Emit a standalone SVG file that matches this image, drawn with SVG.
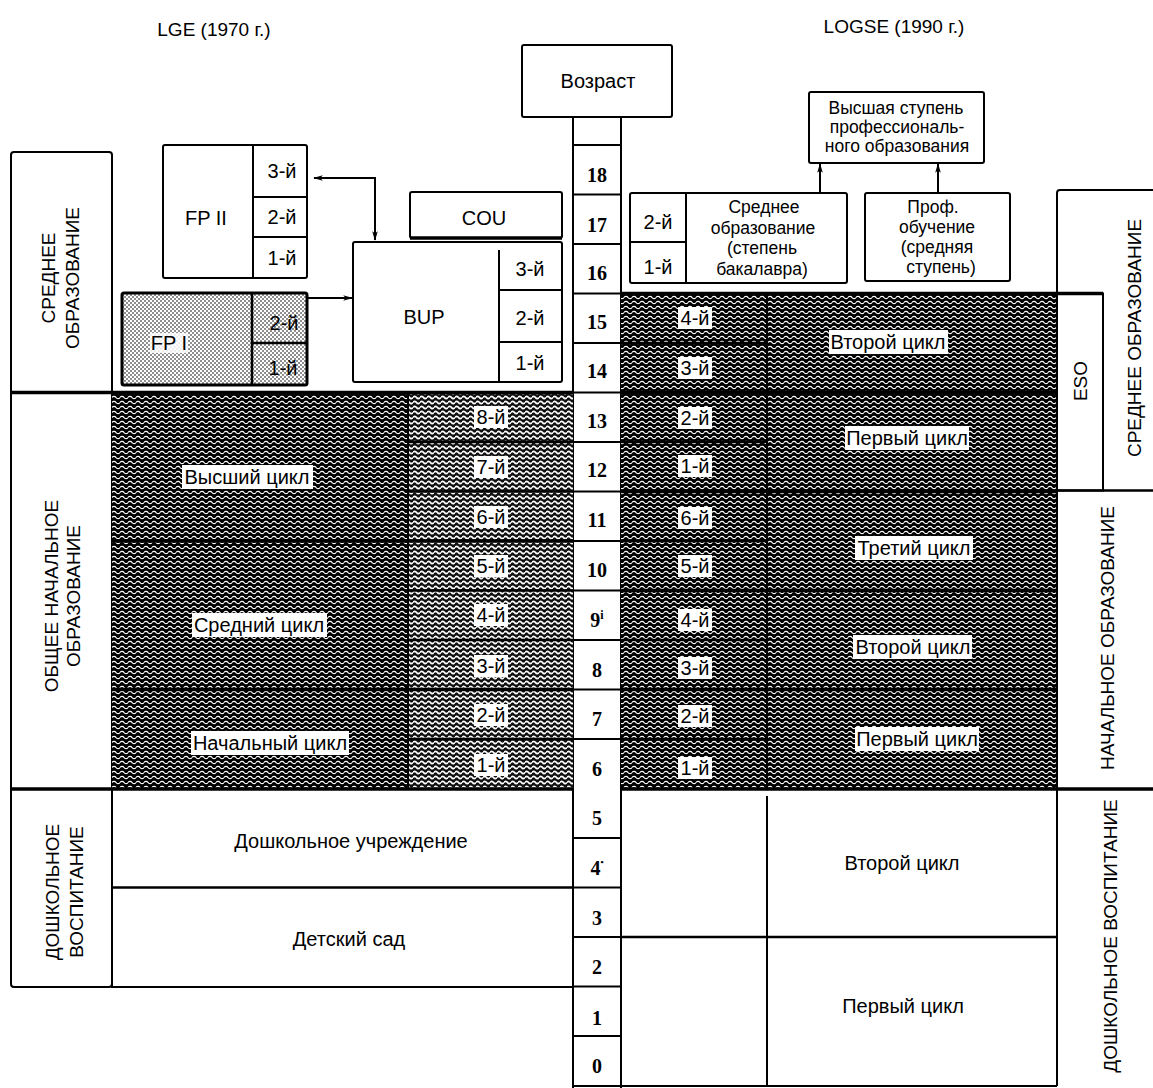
<svg xmlns="http://www.w3.org/2000/svg" width="1153" height="1088" viewBox="0 0 1153 1088">
<defs>
  <pattern id="wv" width="8" height="5" patternUnits="userSpaceOnUse">
    <rect width="8" height="5" fill="#000"/>
    <path d="M0,2.5 C1,1 3,1 4,2.5 S7,4 8,2.5" fill="none" stroke="#fff" stroke-width="1.3"/>
  </pattern>
  <pattern id="wv2" width="7" height="5" patternUnits="userSpaceOnUse">
    <rect width="7" height="5" fill="#111"/>
    <path d="M0,2.5 C1,1 2.5,1 3.5,2.5 S6,4 7,2.5" fill="none" stroke="#fff" stroke-width="1.7"/>
  </pattern>
  <pattern id="dt" width="4" height="4" patternUnits="userSpaceOnUse">
    <rect width="4" height="4" fill="#fff"/>
    <circle cx="1" cy="1" r="0.8" fill="#000"/>
    <circle cx="3" cy="3" r="0.8" fill="#000"/>
  </pattern>
  <marker id="ah" viewBox="0 0 12 10" refX="11" refY="5" markerWidth="10" markerHeight="8" orient="auto-start-reverse" markerUnits="userSpaceOnUse">
    <path d="M0,1.5 L12,5 L0,8.5 L3,5 z" fill="#000"/>
  </marker>
</defs>
<style>
  .t{font-family:"Liberation Sans",Arial,sans-serif;font-size:20px;fill:#000;text-anchor:middle;dominant-baseline:central}
  .s{font-family:"Liberation Sans",Arial,sans-serif;font-size:17.5px;fill:#000;text-anchor:middle;dominant-baseline:central}
  .r{font-family:"Liberation Sans",Arial,sans-serif;font-size:19px;fill:#000;text-anchor:middle;dominant-baseline:central}
  .h{font-family:"Liberation Sans",Arial,sans-serif;font-size:19px;fill:#000;text-anchor:middle}
  .n{font-family:"Liberation Serif","Times New Roman",serif;font-weight:bold;font-size:20px;fill:#000;text-anchor:middle;dominant-baseline:central}
  .b{fill:#fff;stroke:#000;stroke-width:2}
  .l{stroke:#000;stroke-width:2;fill:none}
  .k{stroke:#000;stroke-width:3.5;fill:none}
  .m{stroke:#000;stroke-width:2.5;fill:none}
  .w{fill:#fff}
  .cn{stroke:#000;stroke-width:2;fill:none}
</style>
<rect width="1153" height="1088" fill="#fff"/>

<!-- headers -->
<g id="headers">
  <text class="h" x="214" y="36">LGE (1970 г.)</text>
  <text class="h" x="894" y="33">LOGSE (1990 г.)</text>
</g>

<!-- age column -->
<g id="age">
  <rect class="b" x="522" y="45" width="150" height="72" rx="2"/>
  <text class="t" x="598" y="81">Возраст</text>
  <path class="l" d="M573,117 V1088 M621,117 V1088"/>
  <path class="l" d="M573,145 H621 M573,194.5 H621 M573,244 H621 M573,293.5 H621 M573,343 H621 M573,392.5 H621 M573,442 H621 M573,491.5 H621 M573,541 H621 M573,590.5 H621 M573,640 H621 M573,689.5 H621 M573,739 H621 M573,838 H621 M573,887.5 H621 M573,937 H621 M573,986.5 H621 M573,1036 H621"/>
  <text class="n" x="597" y="175">18</text>
  <text class="n" x="597" y="224.5">17</text>
  <text class="n" x="597" y="273">16</text>
  <text class="n" x="597" y="322">15</text>
  <text class="n" x="597" y="371">14</text>
  <text class="n" x="597" y="421">13</text>
  <text class="n" x="597" y="470">12</text>
  <text class="n" x="597" y="520">11</text>
  <text class="n" x="597" y="570">10</text>
  <text class="n" x="597" y="620">9<tspan font-size="12" dy="-5">i</tspan></text>
  <text class="n" x="597" y="670">8</text>
  <text class="n" x="597" y="719">7</text>
  <text class="n" x="597" y="769">6</text>
  <text class="n" x="597" y="818">5</text>
  <text class="n" x="597" y="868">4<tspan font-size="9" dy="-6">•</tspan></text>
  <text class="n" x="597" y="918">3</text>
  <text class="n" x="597" y="967">2</text>
  <text class="n" x="597" y="1018">1</text>
  <text class="n" x="597" y="1066">0</text>
</g>

<!-- left label column -->
<g id="lge-labels">
  <rect class="b" x="11" y="152" width="101" height="835" rx="3"/>
  <text class="r" transform="translate(60,278) rotate(-90)"><tspan x="0" y="-12">СРЕДНЕЕ</tspan><tspan x="0" y="12">ОБРАЗОВАНИЕ</tspan></text>
  <text class="r" transform="translate(62,596) rotate(-90)"><tspan x="0" y="-11">ОБЩЕЕ НАЧАЛЬНОЕ</tspan><tspan x="0" y="11">ОБРАЗОВАНИЕ</tspan></text>
  <text class="r" transform="translate(64,892) rotate(-90)"><tspan x="0" y="-12">ДОШКОЛЬНОЕ</tspan><tspan x="0" y="12">ВОСПИТАНИЕ</tspan></text>
</g>

<!-- LGE general basic education (dark) -->
<g id="lge-egb">
  <rect x="112" y="392.5" width="296" height="397" fill="url(#wv)"/>
  <rect x="408" y="392.5" width="165" height="397" fill="url(#wv2)"/>
  <path class="l" d="M408,392.5 V789"/>
  <path class="m" d="M408,442 H573 M408,491.5 H573 M408,590.5 H573 M408,640 H573 M408,739 H573"/>
  <path class="k" d="M112,541 H573 M112,689.5 H573"/>
  <rect class="w" x="182" y="465" width="131" height="24"/>
  <text class="t" x="247" y="477">Высший цикл</text>
  <rect class="w" x="192" y="613" width="135" height="24"/>
  <text class="t" x="259" y="625">Средний цикл</text>
  <rect class="w" x="191" y="731" width="158" height="24"/>
  <text class="t" x="270" y="743">Начальный цикл</text>
  <rect class="w" x="474" y="406" width="34" height="22"/><text class="t" x="491" y="417">8-й</text>
  <rect class="w" x="474" y="456" width="34" height="22"/><text class="t" x="491" y="467">7-й</text>
  <rect class="w" x="474" y="506" width="34" height="22"/><text class="t" x="491" y="517">6-й</text>
  <rect class="w" x="474" y="555" width="34" height="22"/><text class="t" x="491" y="566">5-й</text>
  <rect class="w" x="474" y="604" width="34" height="22"/><text class="t" x="491" y="615">4-й</text>
  <rect class="w" x="474" y="655" width="34" height="22"/><text class="t" x="491" y="666">3-й</text>
  <rect class="w" x="474" y="704" width="34" height="22"/><text class="t" x="491" y="715">2-й</text>
  <rect class="w" x="474" y="754" width="34" height="22"/><text class="t" x="491" y="765">1-й</text>
</g>

<!-- LGE preschool -->
<g id="lge-preschool">
  <rect class="b" x="112" y="789" width="461" height="198"/>
  <path class="m" d="M112,887.5 H573"/>
  <text class="t" x="351" y="841">Дошкольное учреждение</text>
  <text class="t" x="349" y="939">Детский сад</text>
</g>

<!-- LGE secondary boxes -->
<g id="fp2">
  <rect class="b" x="163" y="145" width="144" height="133" rx="2"/>
  <path class="l" d="M253,145 V278 M253,197 H307 M253,237 H307"/>
  <text class="t" x="206" y="218">FP II</text>
  <text class="t" x="282" y="171">3-й</text>
  <text class="t" x="282" y="217">2-й</text>
  <text class="t" x="282" y="258">1-й</text>
</g>
<g id="fp1">
  <rect x="122" y="293" width="185" height="92" rx="2" fill="url(#dt)" stroke="#000" stroke-width="3"/>
  <path class="m" d="M252,293 V385 M252,343 H307"/>
  <rect class="w" x="150" y="333" width="38" height="20" opacity="0.85"/>
  <text class="t" x="169" y="343">FP I</text>
  <text class="t" x="284" y="323">2-й</text>
  <text class="t" x="283" y="368">1-й</text>
</g>
<g id="cou">
  <rect class="b" x="410" y="192" width="152" height="46" rx="2"/>
  <path class="k" d="M410,238 H562"/>
  <text class="t" x="484" y="218">COU</text>
</g>
<g id="bup">
  <rect class="b" x="353" y="242" width="209" height="140" rx="2"/>
  <path class="l" d="M499,250 V382 M499,290 H562 M499,342 H562"/>
  <text class="t" x="424" y="317">BUP</text>
  <text class="t" x="530" y="269">3-й</text>
  <text class="t" x="530" y="318">2-й</text>
  <text class="t" x="530" y="363">1-й</text>
</g>

<!-- LOGSE top boxes -->
<g id="higher-prof">
  <rect class="b" x="809" y="92" width="175" height="71" rx="2"/>
  <text class="s" x="896" y="108">Высшая ступень</text>
  <text class="s" x="897" y="127">профессиональ-</text>
  <text class="s" x="897" y="146">ного образования</text>
</g>
<g id="bach">
  <rect class="b" x="630" y="193" width="217" height="90" rx="2"/>
  <path class="l" d="M686,193 V283 M630,242 H686"/>
  <text class="t" x="658" y="222">2-й</text>
  <text class="t" x="658" y="267">1-й</text>
  <text class="s" x="764" y="207">Среднее</text>
  <text class="s" x="763" y="227.5">образование</text>
  <text class="s" x="762" y="248">(степень</text>
  <text class="s" x="762" y="268.5">бакалавра)</text>
</g>
<g id="prof">
  <rect class="b" x="865" y="193" width="145" height="88" rx="2"/>
  <text class="s" x="933" y="207">Проф.</text>
  <text class="s" x="937" y="227">обучение</text>
  <text class="s" x="937" y="247">(средняя</text>
  <text class="s" x="941" y="267">ступень)</text>
</g>

<!-- LOGSE right labels -->
<g id="logse-labels">
  <path class="l" d="M1057,293 V193 Q1057,190 1060,190 H1153"/>
  <rect class="b" x="1057" y="293.5" width="46" height="197"/>
  <path class="m" d="M1057,490.5 H1153"/>
  <text class="r" transform="translate(1080,381) rotate(-90)">ESO</text>
  <text class="r" transform="translate(1134,338) rotate(-90)">СРЕДНЕЕ ОБРАЗОВАНИЕ</text>
  <text class="r" transform="translate(1107,638) rotate(-90)">НАЧАЛЬНОЕ ОБРАЗОВАНИЕ</text>
  <text class="r" transform="translate(1110,936) rotate(-90)">ДОШКОЛЬНОЕ ВОСПИТАНИЕ</text>
</g>

<!-- LOGSE dark region -->
<g id="logse-basic">
  <rect x="621" y="293.5" width="436" height="496" fill="url(#wv)"/>
  <path class="l" d="M767,293.5 V789 M1057,293.5 V789"/>
  <path class="m" d="M621,343 H767 M621,442 H767 M621,541 H767 M621,640 H767 M621,739 H767"/>
  <path class="k" d="M621,392.5 H1057 M621,491.5 H1057 M621,590.5 H1057 M621,689.5 H1057"/>
  <rect class="w" x="678" y="307" width="34" height="22"/><text class="t" x="695" y="318">4-й</text>
  <rect class="w" x="678" y="357" width="34" height="22"/><text class="t" x="695" y="368">3-й</text>
  <rect class="w" x="678" y="407" width="34" height="22"/><text class="t" x="695" y="418">2-й</text>
  <rect class="w" x="678" y="455" width="34" height="22"/><text class="t" x="695" y="466">1-й</text>
  <rect class="w" x="678" y="507" width="34" height="22"/><text class="t" x="695" y="518">6-й</text>
  <rect class="w" x="678" y="555" width="34" height="22"/><text class="t" x="695" y="566">5-й</text>
  <rect class="w" x="678" y="609" width="34" height="22"/><text class="t" x="695" y="620">4-й</text>
  <rect class="w" x="678" y="657" width="34" height="22"/><text class="t" x="695" y="668">3-й</text>
  <rect class="w" x="678" y="705" width="34" height="22"/><text class="t" x="695" y="716">2-й</text>
  <rect class="w" x="678" y="757" width="34" height="22"/><text class="t" x="695" y="768">1-й</text>
  <rect class="w" x="829" y="330" width="119" height="24"/><text class="t" x="888" y="342">Второй цикл</text>
  <rect class="w" x="845" y="426" width="124" height="24"/><text class="t" x="907" y="438">Первый цикл</text>
  <rect class="w" x="855" y="536" width="118" height="24"/><text class="t" x="914" y="548">Третий цикл</text>
  <rect class="w" x="853" y="635" width="119" height="24"/><text class="t" x="913" y="647">Второй цикл</text>
  <rect class="w" x="855" y="727" width="124" height="24"/><text class="t" x="917" y="739">Первый цикл</text>
</g>

<!-- LOGSE preschool -->
<g id="logse-preschool">
  <path class="l" d="M1057,789 V1086 M767,796 V1086 M573,1086 H1057"/>
  <path class="m" d="M621,937 H1057"/>
  <text class="t" x="902" y="863">Второй цикл</text>
  <text class="t" x="903" y="1006">Первый цикл</text>
</g>

<!-- section lines -->
<g id="sections">
  <path class="k" d="M11,392.5 H573 M621,293.5 H1103 M11,789 H573 M621,789 H1153"/>
</g>

<!-- connectors -->
<g id="connectors">
  <path class="cn" d="M314,178 H375 V240" marker-start="url(#ah)" marker-end="url(#ah)"/>
  <path class="cn" d="M307,298 H352" marker-end="url(#ah)"/>
  <path class="cn" d="M820,193 V164" marker-end="url(#ah)"/>
  <path class="cn" d="M938,193 V164" marker-end="url(#ah)"/>
</g>
</svg>
